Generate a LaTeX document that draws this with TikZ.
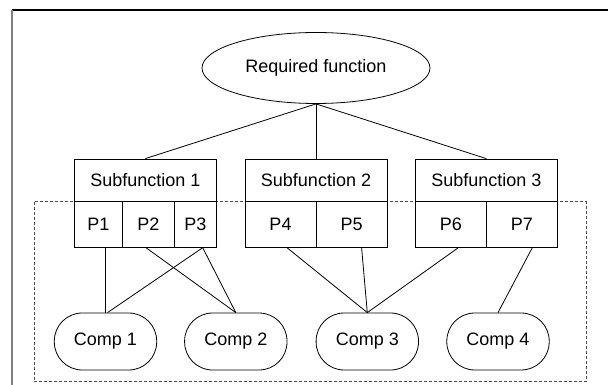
\documentclass[tikz,border=0pt]{standalone}
\usepackage{fontspec}
\setmainfont{Liberation Sans}
\usepackage{tikz}
\usetikzlibrary{shapes.geometric, positioning}

\begin{document}
\begin{tikzpicture}[x=1pt, y=-1pt,
		every node/.style={font=\fontsize{18}{21}\selectfont, inner sep=0pt},
		subbox/.style={draw, rectangle, minimum width=142pt, minimum height=42.7pt},
		pcell/.style={draw, rectangle, minimum height=45.6pt},
		compbox/.style={draw, rectangle, rounded corners=28pt, minimum width=102.4pt, minimum height=57pt},
		link/.style={line width=0.8pt}
	]
	\useasboundingbox (0,0) rectangle (608,385);

	%% frame
	\draw[line width=1.2pt] (12,10) -- (608,10);
	\draw[gray, line width=2pt] (12,10) -- (12,385);

	%% dashed region
	\draw[gray!60!black, dashed, dash pattern=on 3pt off 2pt, line width=0.8pt] (34,201.7) rectangle (586,381.7);

	\node[ellipse, draw, line width=0.8pt, minimum width=228pt, minimum height=71pt] (req) at (316,68) {Required function};

	\node[subbox, line width=0.8pt] (sf1) at (145.3,180.35) {Subfunction 1};
	\node[subbox, line width=0.8pt] (sf2) at (316,180.35) {Subfunction 2};
	\node[subbox, line width=0.8pt] (sf3) at (486.3,180.35) {Subfunction 3};

	\node[pcell, line width=0.8pt, minimum width=48.4pt] (p1) at (98.5,224.5) {P1};
	\node[pcell, line width=0.8pt, minimum width=51.6pt] (p2) at (148.5,224.5) {P2};
	\node[pcell, line width=0.8pt, minimum width=42pt] (p3) at (195.3,224.5) {P3};
	\node[pcell, line width=0.8pt, minimum width=71pt] (p4) at (280.5,224.5) {P4};
	\node[pcell, line width=0.8pt, minimum width=71pt] (p5) at (351.6,224.5) {P5};
	\node[pcell, line width=0.8pt, minimum width=71pt] (p6) at (450.8,224.5) {P6};
	\node[pcell, line width=0.8pt, minimum width=71pt] (p7) at (521.8,224.5) {P7};

	\node[compbox, line width=0.8pt] (c1) at (105.5,341.5) {Comp 1};
	\node[compbox, line width=0.8pt] (c2) at (235.8,341.5) {Comp 2};
	\node[compbox, line width=0.8pt] (c3) at (367.3,341.5) {Comp 3};
	\node[compbox, line width=0.8pt] (c4) at (498,341.5) {Comp 4};

	\draw[link] (req.south) -- (sf1.north);
	\draw[link] (req.south) -- (sf2.north);
	\draw[link] (req.south) -- (sf3.north);

	%% parts to components
	\draw[link] ([xshift=7pt]p1.south) -- (c1.north);
	\draw[link] ([xshift=-2.5pt]p2.south) -- (c2.north);
	\draw[link] ([xshift=7.4pt]p3.south) -- ([xshift=2pt]c1.north);
	\draw[link] ([xshift=7.4pt]p3.south) -- (c2.north);
	\draw[link] ([xshift=6.5pt]p4.south) -- (c3.north);
	\draw[link] ([xshift=10pt]p5.south) -- (c3.north);
	\draw[link] ([xshift=7.5pt]p6.south) -- (c3.north);
	\draw[link] ([xshift=10.5pt]p7.south) -- (c4.north);
\end{tikzpicture}
\end{document}
